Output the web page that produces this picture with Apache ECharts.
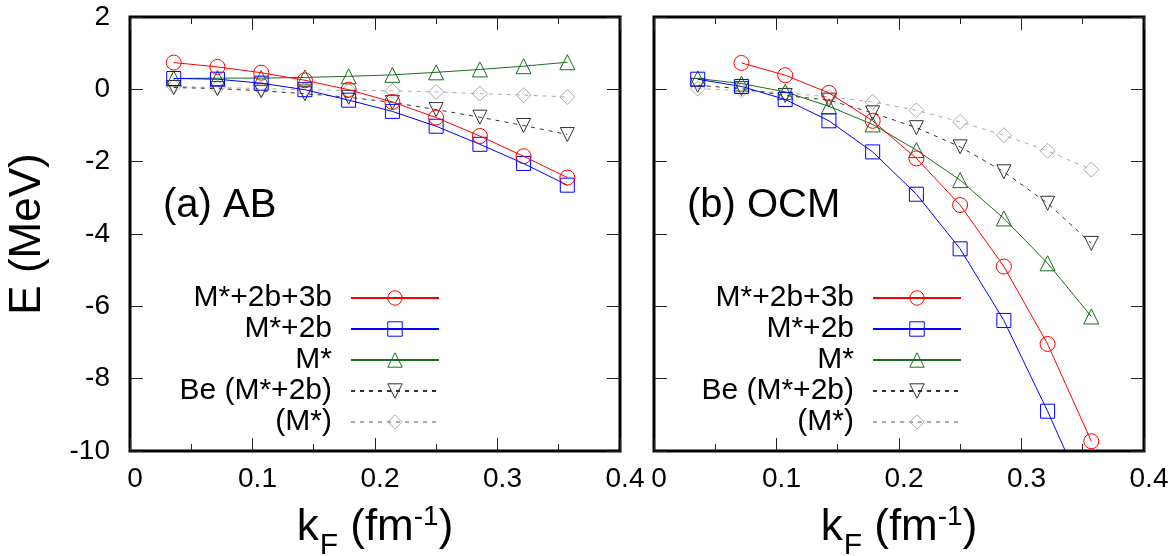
<!DOCTYPE html>
<html>
<head>
<meta charset="utf-8">
<script src="https://cdn.jsdelivr.net/npm/echarts@6/dist/echarts.min.js"></script>
<style>
  html, body { margin: 0; padding: 0; background: #fff; }
  #chart { width: 1172px; height: 556px; }
</style>
</head>
<body>
<div id="chart"></div>
<script>
// Fermi momentum grid (fm^-1)
const kF = [0.0357, 0.0714, 0.1071, 0.1428, 0.1785, 0.2142, 0.2499, 0.2856, 0.3213, 0.357];

// (a) AB potential, energies in MeV
const abFull  = [0.74, 0.62, 0.46, 0.25, -0.01, -0.35, -0.78, -1.29, -1.85, -2.44];
const ab2b    = [0.30, 0.28, 0.17, -0.01, -0.30, -0.61, -1.02, -1.52, -2.05, -2.65];
const abM     = [0.30, 0.31, 0.31, 0.33, 0.36, 0.40, 0.47, 0.55, 0.64, 0.75];
const abBe2b  = [0.05, 0.02, -0.04, -0.12, -0.22, -0.36, -0.56, -0.77, -1.00, -1.25];
const abBeM   = [0.08, 0.05, 0.02, -0.01, -0.03, -0.04, -0.07, -0.12, -0.16, -0.21];

// (b) OCM potential, energies in MeV
const ocmFull = [null, 0.73, 0.39, -0.10, -0.87, -1.91, -3.20, -4.90, -7.04, -9.73];
const ocm2b   = [0.28, 0.08, -0.28, -0.87, -1.73, -2.90, -4.41, -6.39, -8.90, -11.6];
const ocmM    = [0.30, 0.16, -0.07, -0.47, -0.97, -1.68, -2.51, -3.57, -4.81, -6.28];
const ocmBe2b = [0.11, 0.02, -0.17, -0.30, -0.65, -1.06, -1.59, -2.28, -3.15, -4.26];
const ocmBeM  = [0.02, -0.03, -0.10, -0.21, -0.35, -0.58, -0.90, -1.27, -1.70, -2.22];

const seriesNames = ['M*+2b+3b', 'M*+2b', 'M*', 'Be (M*+2b)', '(M*)'];
const xTicks = [0, 0.1, 0.2, 0.3, 0.4];
const xMinorTicks = [0.05, 0.15, 0.25, 0.35];
const yTicks = [-10, -8, -6, -4, -2, 0, 2];
const panelLabels = ['(a) AB', '(b) OCM'];

const FONT = "'Liberation Sans', Arial, sans-serif";
const X_MIN = xTicks[0], X_MAX = xTicks[xTicks.length - 1];
const Y_MIN = yTicks[0], Y_MAX = yTicks[yTicks.length - 1];

const styles = [
  { color: '#ff0000', symbol: 'circle',   rotate: 0,   size: 15, dash: 'solid' },
  { color: '#0000ff', symbol: 'rect',     rotate: 0,   size: 14, dash: 'solid' },
  { color: '#1c6e1c', symbol: 'triangle', rotate: 0,   size: 15, dash: 'solid' },
  { color: '#333333', symbol: 'triangle', rotate: 180, size: 14, dash: [4, 5] },
  { color: '#aaaaaa', symbol: 'diamond',  rotate: 0,   size: 15, dash: [4, 5] }
];

function pairs(ys) {
  return kF.map((x, i) => [x, ys[i]]);
}

function makeSeries(ys, idx, panel) {
  const s = styles[idx];
  return {
    name: seriesNames[idx],
    type: 'line',
    xAxisIndex: panel * 2,
    yAxisIndex: panel * 2,
    data: pairs(ys),
    symbol: s.symbol,
    symbolRotate: s.rotate,
    symbolSize: s.size,
    clip: true,
    lineStyle: { color: s.color, width: 1, type: s.dash },
    itemStyle: { color: 'rgba(0,0,0,0)', borderColor: s.color, borderWidth: 1 },
    emphasis: { disabled: true },
    animation: false,
    z: 10 - idx
  };
}

const grids = [
  { left: 130, right: 552, top: 17, bottom: 105 },
  { left: 654, right: 28, top: 17, bottom: 105 }
];
const W = 1172, H = 556;

const axisLineOff = { show: false, onZero: false };

const xAxes = [];
const yAxes = [];
grids.forEach((g, p) => {
  xAxes.push({
    type: 'value', gridIndex: p, position: 'bottom',
    min: X_MIN, max: X_MAX, interval: 0.1,
    axisLine: axisLineOff, splitLine: { show: false }, axisTick: { show: false },
    axisLabel: {
      show: true, margin: 14, color: '#000', fontSize: 28, fontFamily: FONT,
      padding: [0, 0, 0, 10],
      formatter: v => String(Math.round(v * 10) / 10)
    },
    name: '{k|k}{sub|F}{k| (fm}{sup|-1}{k|)}',
    nameLocation: 'middle', nameGap: 44,
    nameTextStyle: {
      color: '#000', fontFamily: FONT,
      rich: {
        k: { fontSize: 44, fontFamily: FONT, color: '#000' },
        sub: { fontSize: 30, fontFamily: FONT, color: '#000', padding: [36, 0, 0, 1] },
        sup: { fontSize: 28, fontFamily: FONT, color: '#000', padding: [0, 0, 22, 0] }
      }
    }
  });
  xAxes.push({
    type: 'value', gridIndex: p, position: 'top',
    min: X_MIN, max: X_MAX, interval: 0.1,
    axisLine: axisLineOff, splitLine: { show: false }, axisTick: { show: false },
    axisLabel: { show: false }
  });
  yAxes.push({
    type: 'value', gridIndex: p, position: 'left',
    min: Y_MIN, max: Y_MAX, interval: 2,
    axisLine: axisLineOff, splitLine: { show: false }, axisTick: { show: false },
    axisLabel: { show: p === 0, margin: 20, color: '#000', fontSize: 28, fontFamily: FONT },
    name: p === 0 ? 'E (MeV)' : '',
    nameLocation: 'middle', nameRotate: 90, nameGap: 80,
    nameTextStyle: { color: '#000', fontSize: 44, fontFamily: FONT }
  });
  yAxes.push({
    type: 'value', gridIndex: p, position: 'right',
    min: Y_MIN, max: Y_MAX, interval: 2,
    axisLine: axisLineOff, splitLine: { show: false }, axisTick: { show: false },
    axisLabel: { show: false }
  });
});

const series = [
  makeSeries(abFull, 0, 0), makeSeries(ab2b, 1, 0), makeSeries(abM, 2, 0),
  makeSeries(abBe2b, 3, 0), makeSeries(abBeM, 4, 0),
  makeSeries(ocmFull, 0, 1), makeSeries(ocm2b, 1, 1), makeSeries(ocmM, 2, 1),
  makeSeries(ocmBe2b, 3, 1), makeSeries(ocmBeM, 4, 1)
];

function makeLegend(rightPx) {
  return {
    data: seriesNames,
    orient: 'vertical',
    align: 'right',
    right: rightPx,
    top: 283,
    padding: 0,
    itemWidth: 88,
    itemHeight: 18,
    itemGap: 1,
    selectedMode: false,
    itemStyle: { borderWidth: 1 },
    textStyle: { color: '#000', fontSize: 30, fontFamily: FONT, lineHeight: 30, padding: [0, 14, 0, 0] }
  };
}

// thick frame around each panel, plus the two panel captions
function baseGraphics() {
  const out = grids.map(g => ({
    type: 'rect', z: 50, silent: true,
    shape: { x: g.left, y: g.top, width: W - g.left - g.right, height: H - g.top - g.bottom },
    style: { fill: 'none', stroke: '#000', lineWidth: 3 }
  }));
  out.push({ type: 'text', left: 163, top: 186, z: 50, style: { text: panelLabels[0], fontSize: 40, fontFamily: FONT, fill: '#000' } });
  out.push({ type: 'text', left: 687, top: 186, z: 50, style: { text: panelLabels[1], fontSize: 40, fontFamily: FONT, fill: '#000' } });
  return out;
}

const chart = echarts.init(document.getElementById('chart'), null, { renderer: 'canvas' });
chart.setOption({
  animation: false,
  backgroundColor: '#fff',
  grid: grids.map(g => Object.assign({ show: false, containLabel: false, outerBoundsMode: 'none' }, g)),
  xAxis: xAxes,
  yAxis: yAxes,
  legend: [makeLegend(732), makeLegend(210)],
  graphic: baseGraphics(),
  series: series
});

// Inward tick marks on all four sides of each panel, positioned with the axes' scales.
const crisp = v => Math.round(v - 0.5) + 0.5;
function tickLine(x1, y1, x2, y2) {
  return { type: 'line', z: 60, silent: true, shape: { x1, y1, x2, y2 }, style: { stroke: '#222', lineWidth: 1 } };
}
const ticks = [];
[0, 1].forEach(p => {
  const finder = { xAxisIndex: p * 2, yAxisIndex: p * 2 };
  const addX = (v, len) => {
    const b = chart.convertToPixel(finder, [v, Y_MIN]);
    const t = chart.convertToPixel(finder, [v, Y_MAX]);
    const x = crisp(b[0]);
    ticks.push(tickLine(x, b[1], x, b[1] - len));
    ticks.push(tickLine(x, t[1], x, t[1] + len));
  };
  xTicks.forEach(v => addX(v, 13));
  xMinorTicks.forEach(v => addX(v, 7));
  yTicks.forEach(v => {
    const l = chart.convertToPixel(finder, [X_MIN, v]);
    const r = chart.convertToPixel(finder, [X_MAX, v]);
    const y = crisp(l[1]);
    ticks.push(tickLine(l[0], y, l[0] + 13, y));
    ticks.push(tickLine(r[0], y, r[0] - 13, y));
  });
});
chart.setOption({ graphic: baseGraphics().concat(ticks) });
</script>
</body>
</html>
